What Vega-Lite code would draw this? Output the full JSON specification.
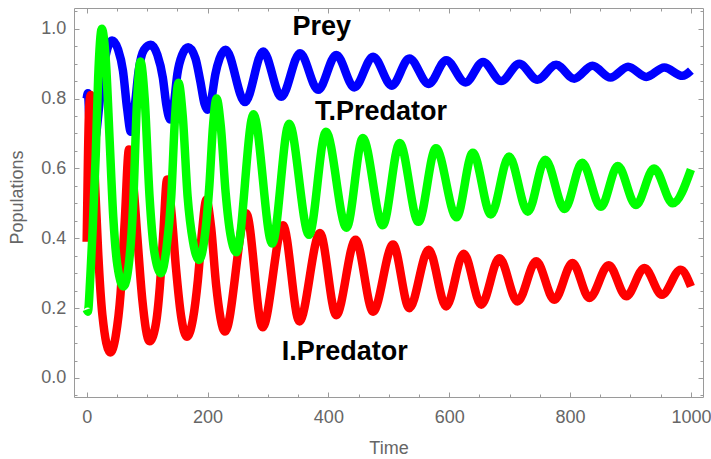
{
  "$schema": "https://vega.github.io/schema/vega-lite/v6.json",
  "width": 629,
  "height": 389,
  "autosize": {"type": "none"},
  "padding": {"left": 74, "top": 8, "right": 8, "bottom": 62},
  "background": "white",
  "config": {
    "view": {"stroke": "#9a9a9a", "strokeWidth": 1},
    "axis": {
      "domain": false,
      "grid": false,
      "tickColor": "#9a9a9a",
      "tickWidth": 1,
      "labelColor": "#666666",
      "labelFont": "Liberation Sans",
      "labelFontSize": 18,
      "labelFlush": false,
      "labelOverlap": false,
      "titleFont": "Liberation Sans",
      "titleFontWeight": "normal",
      "titleColor": "#666666",
      "titleFontSize": 18
    }
  },
  "datasets": {
    "prey": [
      {"t": 0, "v": 0.80}, {"t": 2, "v": 0.815}, {"t": 5, "v": 0.72}, {"t": 9, "v": 0.66}, {"t": 15, "v": 0.69},
      {"t": 22, "v": 0.80}, {"t": 30, "v": 0.91}, {"t": 42, "v": 0.966}, {"t": 52, "v": 0.94}, {"t": 60, "v": 0.88},
      {"t": 67, "v": 0.77}, {"t": 73, "v": 0.705}, {"t": 79, "v": 0.77}, {"t": 86, "v": 0.88}, {"t": 95, "v": 0.94},
      {"t": 106, "v": 0.954}, {"t": 117, "v": 0.925}, {"t": 126, "v": 0.86}, {"t": 132, "v": 0.78}, {"t": 138, "v": 0.74},
      {"t": 144, "v": 0.78}, {"t": 150, "v": 0.87}, {"t": 158, "v": 0.925}, {"t": 168, "v": 0.947}, {"t": 180, "v": 0.915},
      {"t": 188, "v": 0.85}, {"t": 195, "v": 0.785}, {"t": 200, "v": 0.768}, {"t": 206, "v": 0.795}, {"t": 213, "v": 0.87},
      {"t": 220, "v": 0.915}, {"t": 230, "v": 0.94}, {"t": 262, "v": 0.79}, {"t": 292, "v": 0.935}, {"t": 322, "v": 0.805},
      {"t": 353, "v": 0.93}, {"t": 383, "v": 0.825}, {"t": 413, "v": 0.925}, {"t": 443, "v": 0.832}, {"t": 474, "v": 0.92},
      {"t": 505, "v": 0.837}, {"t": 534, "v": 0.915}, {"t": 566, "v": 0.842}, {"t": 595, "v": 0.91}, {"t": 627, "v": 0.846},
      {"t": 656, "v": 0.905}, {"t": 686, "v": 0.85}, {"t": 716, "v": 0.90}, {"t": 746, "v": 0.854}, {"t": 777, "v": 0.897},
      {"t": 807, "v": 0.857}, {"t": 837, "v": 0.894}, {"t": 867, "v": 0.86}, {"t": 896, "v": 0.891}, {"t": 926, "v": 0.862},
      {"t": 956, "v": 0.889}, {"t": 986, "v": 0.865}, {"t": 1000, "v": 0.88}
    ],
    "ipred": [
      {"t": 0, "v": 0.39}, {"t": 2, "v": 0.62}, {"t": 4, "v": 0.77}, {"t": 6.5, "v": 0.81}, {"t": 10, "v": 0.72},
      {"t": 14, "v": 0.55}, {"t": 19, "v": 0.36}, {"t": 26, "v": 0.18}, {"t": 39, "v": 0.073}, {"t": 48, "v": 0.12},
      {"t": 56, "v": 0.24}, {"t": 63, "v": 0.45}, {"t": 70, "v": 0.654}, {"t": 77, "v": 0.56}, {"t": 84, "v": 0.40},
      {"t": 92, "v": 0.225}, {"t": 104, "v": 0.105}, {"t": 114, "v": 0.15}, {"t": 121, "v": 0.26}, {"t": 127, "v": 0.42},
      {"t": 133, "v": 0.568}, {"t": 140, "v": 0.48}, {"t": 148, "v": 0.31}, {"t": 156, "v": 0.18}, {"t": 166, "v": 0.118},
      {"t": 176, "v": 0.17}, {"t": 184, "v": 0.28}, {"t": 191, "v": 0.42}, {"t": 198, "v": 0.51}, {"t": 206, "v": 0.43},
      {"t": 214, "v": 0.27}, {"t": 229, "v": 0.133}, {"t": 264, "v": 0.472}, {"t": 291, "v": 0.145}, {"t": 325, "v": 0.437},
      {"t": 352, "v": 0.162}, {"t": 386, "v": 0.415}, {"t": 413, "v": 0.18}, {"t": 445, "v": 0.396}, {"t": 474, "v": 0.19},
      {"t": 507, "v": 0.382}, {"t": 534, "v": 0.20}, {"t": 566, "v": 0.367}, {"t": 595, "v": 0.205}, {"t": 624, "v": 0.356},
      {"t": 653, "v": 0.21}, {"t": 683, "v": 0.343}, {"t": 713, "v": 0.219}, {"t": 744, "v": 0.334}, {"t": 774, "v": 0.224},
      {"t": 804, "v": 0.329}, {"t": 832, "v": 0.229}, {"t": 864, "v": 0.323}, {"t": 893, "v": 0.234}, {"t": 923, "v": 0.315},
      {"t": 952, "v": 0.238}, {"t": 983, "v": 0.31}, {"t": 1000, "v": 0.262}
    ],
    "tpred": [
      {"t": 0, "v": 0.196}, {"t": 2, "v": 0.19}, {"t": 6, "v": 0.29}, {"t": 10, "v": 0.43}, {"t": 15, "v": 0.64},
      {"t": 19, "v": 0.86}, {"t": 25, "v": 1.0}, {"t": 32, "v": 0.9}, {"t": 38, "v": 0.68}, {"t": 44, "v": 0.46},
      {"t": 51, "v": 0.32}, {"t": 61, "v": 0.262}, {"t": 70, "v": 0.33}, {"t": 77, "v": 0.5}, {"t": 83, "v": 0.78},
      {"t": 89, "v": 0.906}, {"t": 96, "v": 0.8}, {"t": 104, "v": 0.52}, {"t": 112, "v": 0.36}, {"t": 123, "v": 0.30},
      {"t": 132, "v": 0.37}, {"t": 140, "v": 0.52}, {"t": 146, "v": 0.74}, {"t": 152, "v": 0.845}, {"t": 159, "v": 0.75},
      {"t": 167, "v": 0.52}, {"t": 176, "v": 0.39}, {"t": 186, "v": 0.338}, {"t": 195, "v": 0.40}, {"t": 203, "v": 0.55},
      {"t": 209, "v": 0.72}, {"t": 215, "v": 0.80}, {"t": 222, "v": 0.72}, {"t": 230, "v": 0.53}, {"t": 238, "v": 0.41},
      {"t": 248, "v": 0.36}, {"t": 276, "v": 0.755}, {"t": 307, "v": 0.385}, {"t": 335, "v": 0.728}, {"t": 368, "v": 0.41},
      {"t": 396, "v": 0.705}, {"t": 430, "v": 0.43}, {"t": 457, "v": 0.687}, {"t": 490, "v": 0.437}, {"t": 518, "v": 0.673},
      {"t": 549, "v": 0.447}, {"t": 578, "v": 0.658}, {"t": 612, "v": 0.46}, {"t": 639, "v": 0.645}, {"t": 669, "v": 0.468},
      {"t": 699, "v": 0.634}, {"t": 730, "v": 0.476}, {"t": 759, "v": 0.625}, {"t": 791, "v": 0.484}, {"t": 820, "v": 0.616},
      {"t": 851, "v": 0.49}, {"t": 879, "v": 0.607}, {"t": 909, "v": 0.495}, {"t": 939, "v": 0.60}, {"t": 970, "v": 0.50},
      {"t": 1000, "v": 0.597}
    ],
    "labels": [
      {"t": 389, "v": 0.983, "label": "Prey"},
      {"t": 487, "v": 0.7395, "label": "T.Predator"},
      {"t": 427, "v": 0.0524, "label": "I.Predator"}
    ]
  },
  "resolve": {"axis": {"x": "independent", "y": "independent"}},
  "layer": [
    {
      "data": {"name": "prey"},
      "mark": {"type": "line", "color": "#0000ff", "strokeWidth": 8.5, "interpolate": "monotone", "strokeCap": "butt", "strokeJoin": "round", "clip": true},
      "encoding": {
        "x": {"field": "t", "type": "quantitative", "scale": {"domain": [-21, 1020], "nice": false, "zero": false},
          "axis": {"orient": "bottom", "values": [0, 200, 400, 600, 800, 1000], "format": "d", "tickSize": -5, "labelPadding": 16.5,
            "title": "Time", "titleBaseline": "alphabetic", "titleY": 56}},
        "y": {"field": "v", "type": "quantitative", "scale": {"domain": [-0.0544, 1.0593], "nice": false, "zero": false},
          "axis": {"orient": "left", "values": [0, 0.2, 0.4, 0.6, 0.8, 1.0], "format": ".1f", "tickSize": -5, "labelPadding": 13.3,
            "title": "Populations", "titleBaseline": "alphabetic", "titleAngle": -90, "titleX": -52, "titleY": 189, "titleAlign": "center"}}
      }
    },
    {
      "data": {"name": "ipred"},
      "mark": {"type": "line", "color": "#ff0000", "strokeWidth": 8.5, "interpolate": "monotone", "strokeCap": "butt", "strokeJoin": "round", "clip": true},
      "encoding": {
        "x": {"field": "t", "type": "quantitative", "scale": {"domain": [-21, 1020], "nice": false, "zero": false},
          "axis": {"orient": "bottom", "values": [0, 50, 100, 150, 200, 250, 300, 350, 400, 450, 500, 550, 600, 650, 700, 750, 800, 850, 900, 950, 1000], "tickSize": -3, "labels": false, "title": null}},
        "y": {"field": "v", "type": "quantitative", "scale": {"domain": [-0.0544, 1.0593], "nice": false, "zero": false},
          "axis": {"orient": "left", "values": [-0.05, 0, 0.05, 0.1, 0.15, 0.2, 0.25, 0.3, 0.35, 0.4, 0.45, 0.5, 0.55, 0.6, 0.65, 0.7, 0.75, 0.8, 0.85, 0.9, 0.95, 1.0, 1.05], "tickSize": -3, "labels": false, "title": null}}
      }
    },
    {
      "data": {"name": "tpred"},
      "mark": {"type": "line", "color": "#00ff00", "strokeWidth": 8.5, "interpolate": "monotone", "strokeCap": "butt", "strokeJoin": "round", "clip": true},
      "encoding": {
        "x": {"field": "t", "type": "quantitative", "scale": {"domain": [-21, 1020], "nice": false, "zero": false},
          "axis": {"orient": "top", "values": [0, 200, 400, 600, 800, 1000], "tickSize": -5, "labels": false, "title": null}},
        "y": {"field": "v", "type": "quantitative", "scale": {"domain": [-0.0544, 1.0593], "nice": false, "zero": false},
          "axis": {"orient": "right", "values": [0, 0.2, 0.4, 0.6, 0.8, 1.0], "tickSize": -5, "labels": false, "title": null}}
      }
    },
    {
      "data": {"name": "labels"},
      "mark": {"type": "text", "font": "Liberation Sans", "fontWeight": "bold", "fontSize": 27, "color": "#000000", "align": "center", "baseline": "alphabetic"},
      "encoding": {
        "x": {"field": "t", "type": "quantitative", "scale": {"domain": [-21, 1020], "nice": false, "zero": false},
          "axis": {"orient": "top", "values": [0, 50, 100, 150, 200, 250, 300, 350, 400, 450, 500, 550, 600, 650, 700, 750, 800, 850, 900, 950, 1000], "tickSize": -3, "labels": false, "title": null}},
        "y": {"field": "v", "type": "quantitative", "scale": {"domain": [-0.0544, 1.0593], "nice": false, "zero": false},
          "axis": {"orient": "right", "values": [-0.05, 0, 0.05, 0.1, 0.15, 0.2, 0.25, 0.3, 0.35, 0.4, 0.45, 0.5, 0.55, 0.6, 0.65, 0.7, 0.75, 0.8, 0.85, 0.9, 0.95, 1.0, 1.05], "tickSize": -3, "labels": false, "title": null}},
        "text": {"field": "label", "type": "nominal"}
      }
    }
  ]
}
